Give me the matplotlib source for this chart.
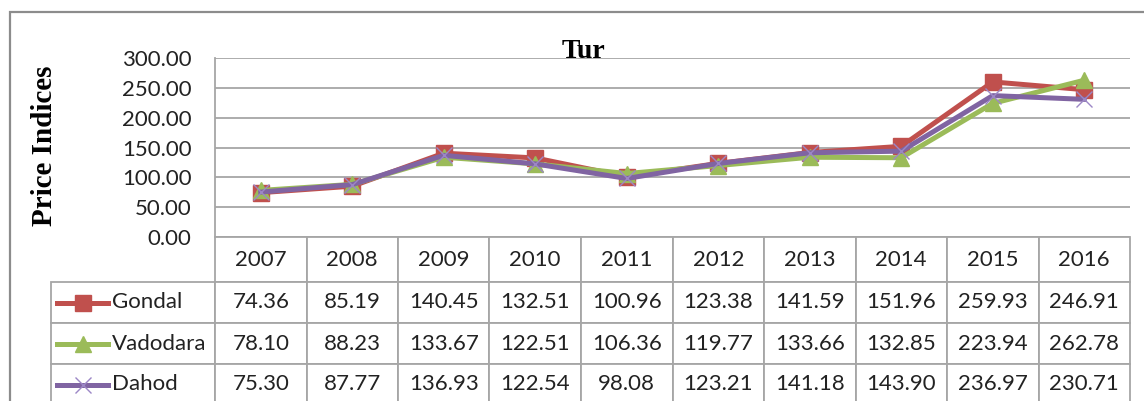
import matplotlib
matplotlib.use("Agg")
import matplotlib.pyplot as plt
from matplotlib.table import Table
from matplotlib.patches import Rectangle

# data
years = ["2007", "2008", "2009", "2010", "2011", "2012", "2013", "2014", "2015", "2016"]
gondal = [74.36, 85.19, 140.45, 132.51, 100.96, 123.38, 141.59, 151.96, 259.93, 246.91]
vadodara = [78.10, 88.23, 133.67, 122.51, 106.36, 119.77, 133.66, 132.85, 223.94, 262.78]
dahod = [75.30, 87.77, 136.93, 122.54, 98.08, 123.21, 141.18, 143.90, 236.97, 230.71]
series_names = ["Gondal", "Vadodara", "Dahod"]
yticks = [0, 50, 100, 150, 200, 250, 300]

colors = ["#C0504D", "#9BBB59", "#8064A2"]
markers = ["s", "^", "x"]
GRID = "#A6A6A6"
SANS = "Lato"
SERIF = "Liberation Serif"

W, H = 1144, 401
fig = plt.figure(figsize=(W / 100, H / 100), dpi=100)

def fx(px):
    return px / W

def fy(py):
    return 1 - py / H

# outer chart border
fig.patches.append(Rectangle((fx(10), fy(430)), fx(1200), (430 - 12) / H,
                             transform=fig.transFigure, fill=False,
                             edgecolor="#8C8C8C", linewidth=1.6))

# plot area
left, right, top, bottom = 215, 1130, 58, 237
ax = fig.add_axes([fx(left), fy(bottom), fx(right - left), (bottom - top) / H])
x = list(range(len(years)))
for vals, c, m, name in zip([gondal, vadodara, dahod], colors, markers, series_names):
    if m == "x":
        ax.plot(x, vals, color=c, linewidth=3.6, zorder=3)
        ax.plot(x, vals, linestyle="none", marker="x", markersize=11,
                markeredgecolor="#9C87C6", markeredgewidth=1.0, zorder=4)
    else:
        ax.plot(x, vals, color=c, linewidth=3.6, marker=m, markersize=11, zorder=3)

ax.set_xlim(-0.5, len(years) - 0.5)
ax.set_ylim(0, 300)
ax.set_yticks(yticks)
ax.set_yticklabels([f"{v:.2f}" for v in yticks], fontsize=16, family=SANS, color="#222222")
ax.set_xticks([])
ax.tick_params(axis="y", length=0, pad=17)
ax.yaxis.grid(True, color=GRID, linewidth=1.3)
ax.set_axisbelow(True)
for s in ["top", "right", "bottom"]:
    ax.spines[s].set_visible(False)
ax.spines["left"].set_color(GRID)
ax.spines["left"].set_linewidth(1.3)

fig.text(fx(583), fy(58), "Tur", family=SERIF, fontweight="bold", fontsize=20,
         ha="center", va="baseline", color="black")
fig.text(fx(45), fy(146), "Price Indices", family=SERIF, fontweight="bold", fontsize=21,
         rotation=90, ha="center", va="center", color="black")

# data table below the plot
t_left, t_bottom = 51, 405
lab_w = left - t_left
col_w = (right - left) / len(years)
tab_w = right - t_left
tab_h = t_bottom - bottom
tax = fig.add_axes([fx(t_left), fy(t_bottom), fx(tab_w), tab_h / H])
tax.set_axis_off()
tax.set_xlim(0, 1)
tax.set_ylim(0, 1)

hdr_h, row_h = 45, 41
tbl = Table(tax, bbox=[0, 0, 1, 1])
for j, yr in enumerate(years):
    cell = tbl.add_cell(0, j + 1, width=col_w / tab_w, height=hdr_h / tab_h, text=yr, loc="center")
for i, vals in enumerate([gondal, vadodara, dahod]):
    tbl.add_cell(i + 1, 0, width=lab_w / tab_w, height=row_h / tab_h, text="")
    for j, v in enumerate(vals):
        tbl.add_cell(i + 1, j + 1, width=col_w / tab_w, height=row_h / tab_h,
                     text=f"{v:.2f}", loc="center")
tbl.auto_set_font_size(False)
for (r, c), cell in tbl.get_celld().items():
    cell.set_edgecolor(GRID)
    cell.set_linewidth(1.3)
    cell.get_text().set_fontsize(16)
    cell.get_text().set_family(SANS)
    cell.get_text().set_color("#222222")
tax.add_table(tbl)

# legend keys in the row label cells
for i, (name, c, m) in enumerate(zip(series_names, colors, markers)):
    yc = 1 - (hdr_h + row_h * i + row_h / 2) / tab_h
    x0, x1, xm = 6 / tab_w, 57 / tab_w, 32 / tab_w
    tax.plot([x0, x1], [yc, yc], color=c, linewidth=3.6, clip_on=False)
    if m == "x":
        tax.plot([xm], [yc], marker="x", markersize=11, markeredgecolor="#9C87C6",
                 markeredgewidth=1.0, clip_on=False)
    else:
        tax.plot([xm], [yc], marker=m, markersize=11, color=c, clip_on=False)
    tax.text(61 / tab_w, yc, name, fontsize=16, family=SANS, color="#222222",
             ha="left", va="center")

fig.savefig("out.png", dpi=100)
